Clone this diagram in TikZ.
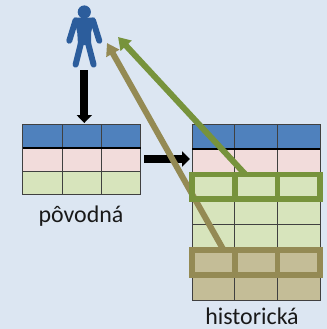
\documentclass[tikz,border=0pt]{standalone}
\usepackage{fontspec}
\setmainfont{Carlito}
\usetikzlibrary{arrows.meta}
\definecolor{bgc}{HTML}{DCE6F2}
\definecolor{bluec}{HTML}{4F81BD}
\definecolor{pinkc}{HTML}{F2DCDB}
\definecolor{greenc}{HTML}{D7E4BC}
\definecolor{tanc}{HTML}{C4BD97}
\definecolor{frameg}{HTML}{77933C}
\definecolor{frameb}{HTML}{948A54}
\definecolor{personc}{HTML}{2C5D9C}
\tikzset{
  cellgrid/.style={draw=black!75,line width=0.9pt},
  heavy/.style={black,line width=2.6pt},
  blackarrow/.style={draw=black,line width=8pt,-{Triangle[length=8pt,width=15pt]}},
  framebox/.style={line width=6pt,line join=miter},
  longarrow/.style={line width=6pt,-{Triangle[length=12pt,width=14.5pt]}},
  limb/.style={personc,line width=6pt,line cap=round},
  caption/.style={inner sep=0pt,font=\fontsize{24}{26}\selectfont,text=black!90}
}
\begin{document}
\begin{tikzpicture}[x=1bp,y=-1bp]
\useasboundingbox (0,0) rectangle (327,329);
\fill[bgc] (0,0) rectangle (327,329);
% person
\fill[personc] (84.3,12) circle (6.6);
\fill[personc] (74,17.7) -- (94.5,17.7) -- (91,33) -- (91,45) -- (78,45) -- (77.3,33) -- cycle;
\draw[limb] (75.5,20.5) -- (69.3,40.7);
\draw[limb] (93,20.5) -- (99.3,40.7);
\draw[limb] (81.5,41) -- (75.6,64.6);
\draw[limb] (87.5,41) -- (93.6,64.6);
\coordinate (pdown) at (84.3,70);
\coordinate (ttop) at (84.3,123);
\coordinate (tipg) at (118,37);
\coordinate (tipb) at (107,43);
\coordinate (tright) at (144,159);
\coordinate (hleft) at (190,159);
\coordinate (gstart) at (245,174);
\coordinate (bstart) at (223,249);
% left table
\fill[bluec] (22.5,124.5) rectangle (140.5,147);
\fill[pinkc] (22.5,147) rectangle (140.5,171);
\fill[greenc] (22.5,171) rectangle (140.5,194);
\draw[cellgrid] (22.5,124.5) rectangle (140.5,194);
\draw[cellgrid] (22.5,171) -- (140.5,171);
\draw[cellgrid] (62,124.5) -- (62,194);
\draw[cellgrid] (101,124.5) -- (101,194);
\draw[heavy] (22.5,148) -- (140.5,148);
% right table
\fill[bluec] (192,124) rectangle (320,148);
\fill[pinkc] (192,148) rectangle (320,174.5);
\fill[greenc] (192,174.5) rectangle (320,250);
\fill[tanc] (192,250) rectangle (320,300);
\draw[cellgrid] (192,124) rectangle (320,300);
\foreach \yy in {174.5,199,224.5,250,275} \draw[cellgrid] (192,\yy) -- (320,\yy);
\draw[cellgrid] (234.7,124) -- (234.7,300);
\draw[cellgrid] (277.5,124) -- (277.5,300);
\draw[heavy] (192,149) -- (320,149);
% black arrows
\draw[blackarrow] (pdown) -- (ttop);
\draw[blackarrow] (tright) -- (hleft);
% frames and long arrows
\draw[longarrow,frameb] (bstart) -- (tipb);
\draw[longarrow,frameg] (gstart) -- (tipg);
\draw[framebox,frameg] (192,174.5) rectangle (320,199);
\draw[framebox,frameg] (234.7,174.5) -- (234.7,199);
\draw[framebox,frameg] (277.5,174.5) -- (277.5,199);
\draw[framebox,frameb] (192,250) rectangle (320,275);
\draw[framebox,frameb] (234.7,250) -- (234.7,275);
\draw[framebox,frameb] (277.5,250) -- (277.5,275);
% captions
\node[caption] (povodna) at (81,216) {pôvodná};
\node[caption] (historicka) at (252,316) {historická};
\end{tikzpicture}
\end{document}
